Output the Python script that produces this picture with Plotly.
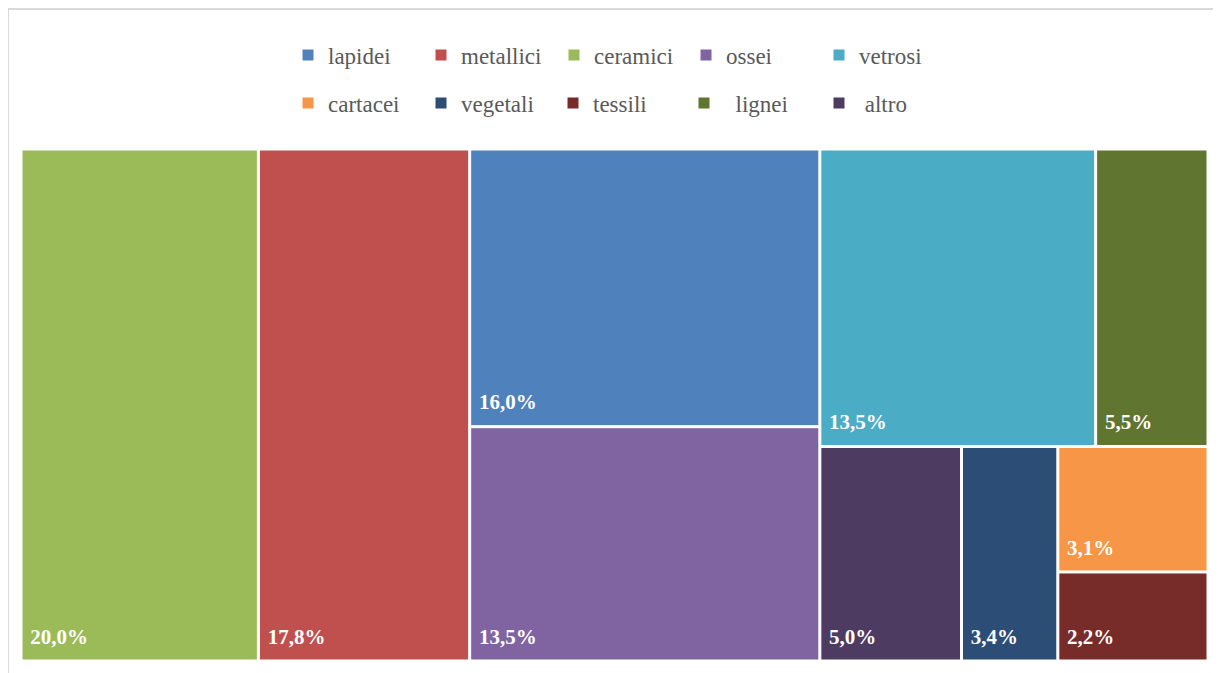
import plotly.graph_objects as go

# Data
categories = ["lapidei", "metallici", "ceramici", "ossei", "vetrosi",
              "cartacei", "vegetali", "tessili", "lignei", "altro"]
legend_names = ["lapidei", "metallici", "ceramici", "ossei", "vetrosi",
                "cartacei", "vegetali", "tessili", "\u00a0\u00a0lignei", "\u00a0altro"]
values = [16.0, 17.8, 20.0, 13.5, 13.5, 3.1, 3.4, 2.2, 5.5, 5.0]
colors = ["#4F81BD", "#C0504D", "#9BBB59", "#8064A2", "#4BACC6",
          "#F79646", "#2C4D75", "#772C2A", "#5F7530", "#4D3B62"]

# Grouping that reproduces the Excel-like tiling (hierarchy only, no coordinates)
node_order = ["ceramici", "metallici", "g_a", "lapidei", "ossei",
              "g_b", "g_b_top", "vetrosi", "lignei",
              "g_b_bot", "altro", "vegetali", "g_b_c", "cartacei", "tessili"]
parent_of = {
    "ceramici": "", "metallici": "", "g_a": "", "g_b": "",
    "lapidei": "g_a", "ossei": "g_a",
    "g_b_top": "g_b", "g_b_bot": "g_b",
    "vetrosi": "g_b_top", "lignei": "g_b_top",
    "altro": "g_b_bot", "vegetali": "g_b_bot", "g_b_c": "g_b_bot",
    "cartacei": "g_b_c", "tessili": "g_b_c",
}

val_map = dict(zip(categories, values))
col_map = dict(zip(categories, colors))

ids, labels, parents, vals, cols, texts = [], [], [], [], [], []
for n in node_order:
    ids.append(n)
    parents.append(parent_of[n])
    if n in val_map:
        labels.append(n)
        vals.append(val_map[n])
        cols.append(col_map[n])
        texts.append(f"{val_map[n]:.1f}%".replace(".", ","))
    else:
        labels.append(" ")
        vals.append(0)
        cols.append("#FFFFFF")
        texts.append("")

W, H = 1221, 673
fig = go.Figure()
fig.add_trace(go.Treemap(
    ids=ids, labels=labels, parents=parents, values=vals,
    branchvalues="remainder", sort=False,
    text=texts, textinfo="text", textposition="bottom left",
    textfont=dict(family="Liberation Serif", size=21, color="white"),
    texttemplate="\u2005<b>%{text}</b><sub><span style='font-size:40px'>\u00a0</span></sub>",
    marker=dict(colors=cols, line=dict(color="white", width=1),
                pad=dict(t=0, l=0, r=0, b=0)),
    tiling=dict(packing="slice-dice", pad=2),
    pathbar=dict(visible=False),
    domain=dict(x=[14 / W, 1199 / W], y=[1 - 652 / H, 1 - 142 / H]),
    hoverinfo="skip",
))

# legend layout: one legend box per entry (figure pixel coords)
legend_x = [280, 413, 546, 678, 811, 280, 413, 545, 676, 811]
legend_y = [47, 47, 47, 47, 47, 95, 95, 95, 95, 95]

legend_common = dict(orientation="h", xanchor="left", yanchor="middle",
                     font=dict(family="Liberation Serif", size=23, color="#595959"),
                     bgcolor="rgba(0,0,0,0)", itemclick=False, itemdoubleclick=False)

layout_legends = {}
for i, c in enumerate(categories):
    key = "legend" if i == 0 else f"legend{i + 1}"
    fig.add_trace(go.Scatter(
        x=[None], y=[None], mode="markers", name=legend_names[i],
        marker=dict(symbol="square", size=11, color=colors[i]),
        legend=key, showlegend=True,
    ))
    layout_legends[key] = dict(x=legend_x[i] / W, y=1 - legend_y[i] / H, **legend_common)

fig.update_layout(
    width=W, height=H,
    margin=dict(l=0, r=0, t=0, b=0),
    paper_bgcolor="white", plot_bgcolor="white",
    xaxis=dict(visible=False), yaxis=dict(visible=False),
    shapes=[dict(type="rect", xref="paper", yref="paper",
                 x0=0, y0=-0.02, x1=1.02, y1=1 - 1 / H,
                 line=dict(color="#D9D9D9", width=2), fillcolor="rgba(0,0,0,0)",
                 layer="below")],
    **layout_legends,
)

fig.write_html("out.html")
